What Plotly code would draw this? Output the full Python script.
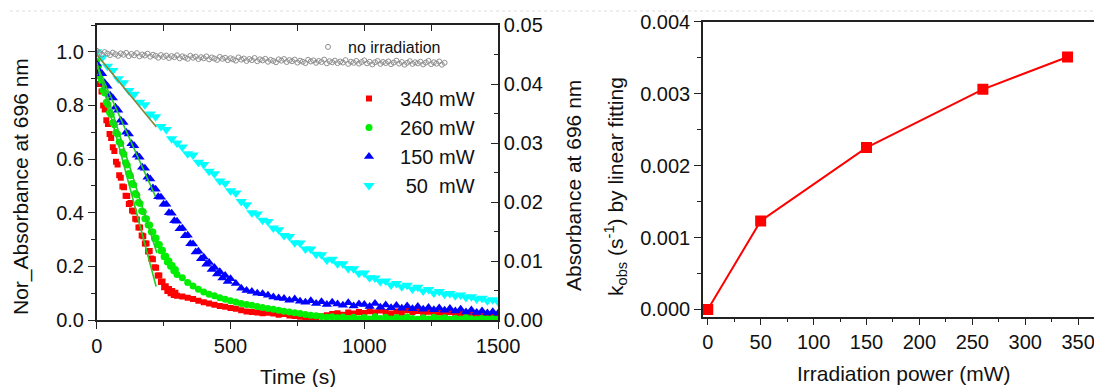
import plotly.graph_objects as go

# ---------------- data: left panel (normalized absorbance vs time) ----------------
t_340 = list(range(0, 301, 6)) + list(range(320, 1501, 20))
a_340 = [0.950, 0.922, 0.880, 0.852, 0.800, 0.785, 0.745, 0.731, 0.694, 0.679,
         0.644, 0.630, 0.590, 0.580, 0.540, 0.530, 0.498, 0.495, 0.463, 0.462,
         0.433, 0.436, 0.408, 0.405, 0.378, 0.375, 0.345, 0.345, 0.315, 0.312,
         0.285, 0.285, 0.255, 0.257, 0.229, 0.227, 0.197, 0.195, 0.166, 0.166,
         0.142, 0.144, 0.122, 0.126, 0.108, 0.116, 0.100, 0.108, 0.093, 0.102,
         0.090,
         0.088, 0.083, 0.078, 0.072, 0.066, 0.062, 0.057, 0.052, 0.049, 0.045,
         0.042, 0.036, 0.032, 0.030, 0.028, 0.025, 0.027, 0.024, 0.020, 0.022,
         0.017, 0.015, 0.012, 0.008, 0.004, 0.010, 0.014, 0.018, 0.022, 0.025,
         0.020, 0.028, 0.024, 0.030, 0.026, 0.033, 0.028, 0.035, 0.030, 0.024,
         0.032, 0.027, 0.036, 0.030, 0.034, 0.026, 0.031, 0.022, 0.028, 0.024,
         0.030, 0.021, 0.026, 0.020, 0.025, 0.018, 0.022, 0.015, 0.020, 0.017]

t_260 = list(range(0, 301, 6)) + list(range(320, 1501, 20))
a_260 = [0.965, 0.945, 0.908, 0.893, 0.857, 0.846, 0.812, 0.804, 0.774, 0.766,
         0.736, 0.728, 0.699, 0.694, 0.664, 0.658, 0.626, 0.618, 0.586, 0.578,
         0.546, 0.538, 0.509, 0.504, 0.472, 0.466, 0.438, 0.434, 0.406, 0.404,
         0.378, 0.378, 0.354, 0.354, 0.329, 0.328, 0.304, 0.306, 0.282, 0.282,
         0.258, 0.260, 0.236, 0.238, 0.216, 0.220, 0.200, 0.203, 0.184, 0.188,
         0.170,
         0.158, 0.140, 0.127, 0.115, 0.104, 0.096, 0.090, 0.083, 0.077, 0.072,
         0.067, 0.062, 0.058, 0.055, 0.050, 0.047, 0.043, 0.040, 0.036, 0.033,
         0.030, 0.027, 0.024, 0.021, 0.018, 0.016, 0.013, 0.010, 0.012, 0.008,
         0.011, 0.006, 0.010, 0.005, 0.009, 0.004, 0.012, 0.006, 0.010, 0.004,
         0.009, 0.005, 0.011, 0.006, 0.003, 0.008, 0.004, 0.010, 0.005, 0.008,
         0.003, 0.007, 0.004, 0.009, 0.005, 0.003, 0.007, 0.004, 0.006, 0.003]

t_150 = list(range(0, 501, 10)) + list(range(520, 1501, 20))
a_150 = [0.955, 0.928, 0.918, 0.884, 0.872, 0.838, 0.828, 0.793, 0.782, 0.745,
         0.736, 0.700, 0.694, 0.657, 0.650, 0.614, 0.607, 0.570, 0.566, 0.532,
         0.526, 0.492, 0.488, 0.460, 0.458, 0.432, 0.432, 0.400, 0.398, 0.370,
         0.368, 0.340, 0.342, 0.314, 0.316, 0.284, 0.283, 0.254, 0.256, 0.228,
         0.234, 0.208, 0.214, 0.188, 0.196, 0.172, 0.180, 0.157, 0.166, 0.144,
         0.154,
         0.136, 0.118, 0.110, 0.106, 0.100, 0.098, 0.092, 0.086, 0.082, 0.080,
         0.074, 0.078, 0.070, 0.066, 0.072, 0.062, 0.068, 0.058, 0.066, 0.060,
         0.055, 0.064, 0.052, 0.060, 0.058, 0.050, 0.062, 0.048, 0.056, 0.046,
         0.054, 0.044, 0.052, 0.042, 0.050, 0.040, 0.047, 0.038, 0.045, 0.036,
         0.043, 0.034, 0.040, 0.030, 0.037, 0.028, 0.034, 0.026, 0.031, 0.025]

t_50 = list(range(0, 1501, 20))
a_50 = [1.000, 0.978, 0.946, 0.930, 0.900, 0.885, 0.856, 0.842, 0.812, 0.803,
        0.768, 0.758, 0.722, 0.710, 0.676, 0.660, 0.645, 0.620, 0.615, 0.588,
        0.580, 0.555, 0.545, 0.518, 0.510, 0.482, 0.474, 0.442, 0.430, 0.400,
        0.395, 0.372, 0.367, 0.343, 0.337, 0.315, 0.311, 0.288, 0.287, 0.265,
        0.265, 0.245, 0.243, 0.224, 0.227, 0.210, 0.210, 0.192, 0.191, 0.174,
        0.175, 0.158, 0.157, 0.144, 0.145, 0.131, 0.136, 0.124, 0.130, 0.116,
        0.122, 0.108, 0.114, 0.101, 0.106, 0.096, 0.099, 0.090, 0.093, 0.084,
        0.087, 0.078, 0.081, 0.072, 0.076, 0.068]

t_dark = list(range(0, 1301, 10))
a_dark = [1.004, 0.996, 0.990, 0.999, 0.993, 0.988, 0.997, 0.991, 0.985, 0.994,
          0.989, 0.996, 0.984, 0.992, 0.987, 0.995, 0.983, 0.990, 0.986, 0.993,
          0.982, 0.989, 0.985, 0.978, 0.988, 0.981, 0.986, 0.977, 0.984, 0.980,
          0.987, 0.976, 0.983, 0.979, 0.974, 0.985, 0.978, 0.982, 0.973, 0.980,
          0.976, 0.983, 0.972, 0.979, 0.975, 0.970, 0.981, 0.974, 0.978, 0.969,
          0.976, 0.972, 0.967, 0.979, 0.971, 0.975, 0.966, 0.973, 0.969, 0.977,
          0.965, 0.972, 0.968, 0.974, 0.963, 0.970, 0.966, 0.961, 0.972, 0.967,
          0.973, 0.962, 0.969, 0.965, 0.971, 0.960, 0.967, 0.963, 0.958, 0.970,
          0.964, 0.968, 0.959, 0.966, 0.962, 0.971, 0.957, 0.965, 0.961, 0.967,
          0.958, 0.964, 0.960, 0.969, 0.955, 0.963, 0.959, 0.966, 0.956, 0.962,
          0.968, 0.957, 0.963, 0.953, 0.961, 0.966, 0.955, 0.962, 0.958, 0.964,
          0.954, 0.960, 0.967, 0.956, 0.962, 0.952, 0.959, 0.965, 0.955, 0.961,
          0.957, 0.963, 0.953, 0.960, 0.966, 0.954, 0.961, 0.956, 0.964, 0.952,
          0.959]

# linear fits (start / end points of each fitted segment)
fit_340_t = [0, 222]
fit_340_a = [0.96, 0.125]
fit_260_t = [0, 225]
fit_260_a = [0.96, 0.25]
fit_150_t = [0, 220]
fit_150_a = [0.95, 0.46]
fit_50_t = [0, 223]
fit_50_a = [0.99, 0.72]

# ---------------- data: right panel ----------------
power_mw = [0, 50, 150, 260, 340]
k_obs = [0.0, 0.00123, 0.00225, 0.00306, 0.00351]

FONT = "Liberation Sans, Arial, sans-serif"
AX = "#222222"
RED = "#ff0000"
GREEN = "#00ee00"
BLUE = "#0000ff"
CYAN = "#00ffff"

fig = go.Figure()

fig.add_trace(go.Scatter(x=t_dark, y=a_dark, mode="markers", name="no irradiation",
                         xaxis="x3", yaxis="y", legend="legend2",
                         marker=dict(symbol="circle-open", size=5, color="#8f8f8f",
                                     line=dict(width=1, color="#8f8f8f"))))
fig.add_trace(go.Scatter(x=t_340, y=a_340, mode="markers", name="\u00a0\u00a0340 mW",
                         marker=dict(symbol="square", size=6, color=RED)))
fig.add_trace(go.Scatter(x=t_260, y=a_260, mode="markers", name="\u00a0\u00a0260 mW",
                         marker=dict(symbol="circle", size=7, color=GREEN)))
fig.add_trace(go.Scatter(x=t_150, y=a_150, mode="markers", name="\u00a0\u00a0150 mW",
                         marker=dict(symbol="triangle-up", size=9, color=BLUE)))
fig.add_trace(go.Scatter(x=t_50, y=a_50, mode="markers", name="\u00a0\u00a0\u00a050\u00a0\u00a0mW",
                         marker=dict(symbol="triangle-down", size=10, color=CYAN)))

for ft, fa, col in [(fit_340_t, fit_340_a, "#22cc22"), (fit_260_t, fit_260_a, "#22cc22"),
                    (fit_150_t, fit_150_a, "#22cc22"), (fit_50_t, fit_50_a, "#8c8434")]:
    fig.add_trace(go.Scatter(x=ft, y=fa, mode="lines", showlegend=False,
                             line=dict(color=col, width=1.6)))

# empty trace so the right-hand absorbance axis gets its own subplot
fig.add_trace(go.Scatter(x=[], y=[], yaxis="y2", showlegend=False))

fig.add_trace(go.Scatter(x=power_mw, y=k_obs, mode="lines+markers", showlegend=False,
                         xaxis="x2", yaxis="y3",
                         line=dict(color=RED, width=2),
                         marker=dict(symbol="square", size=11, color=RED)))

tickfont = dict(family=FONT, size=20, color="#111")
common = dict(showgrid=False, zeroline=False, showline=True, linecolor=AX, linewidth=1.5,
              tickcolor=AX, tickwidth=1.3, tickfont=tickfont, automargin=False,
              ticklabeloverflow="allow")

fig.update_layout(
    template="none",
    width=1094, height=387,
    margin=dict(l=0, r=0, t=0, b=0, pad=0),
    paper_bgcolor="white", plot_bgcolor="white",
    font=dict(family=FONT, color="#111"),
    xaxis=dict(domain=[0.0884, 0.4553], range=[0, 1500], anchor="y",
               ticks="outside", ticklen=7, dtick=500, tick0=0,
               minor=dict(dtick=250, ticklen=4, ticks="outside", tickcolor=AX), **common),
    xaxis3=dict(overlaying="x", anchor="y", side="top", range=[0, 1500],
                ticks="inside", ticklen=6, dtick=250, tick0=0, showticklabels=False, **common),
    yaxis=dict(domain=[0.1731, 0.9354], range=[0, 1.1], anchor="x",
               ticks="outside", ticklen=7, dtick=0.2, tickformat=".1f",
               minor=dict(dtick=0.1, ticklen=4, ticks="outside", tickcolor=AX), **common),
    yaxis2=dict(overlaying="y", anchor="x", side="right", range=[0, 0.05],
                ticks="inside", ticklen=7, dtick=0.01, tickformat=".2f",
                minor=dict(dtick=0.005, ticklen=4, ticks="inside", tickcolor=AX), **common),
    xaxis2=dict(domain=[0.6426, 1.0], range=[-4.5, 365], anchor="y3", mirror=True,
                ticks="outside", ticklen=7, dtick=50, tick0=0,
                minor=dict(dtick=25, ticklen=4, ticks="outside", tickcolor=AX), **common),
    yaxis3=dict(domain=[0.1817, 0.9439], range=[-0.0001, 0.004], anchor="x2",
                ticks="outside", ticklen=7, dtick=0.001, tickformat=".3f",
                minor=dict(dtick=0.0005, ticklen=4, ticks="outside", tickcolor=AX), **common),
    legend=dict(x=349 / 1094, y=(387 - 79) / 387, xanchor="left", yanchor="top",
                bgcolor="rgba(0,0,0,0)", font=dict(family=FONT, size=20, color="#111"),
                tracegroupgap=0, itemwidth=30, borderwidth=0),
    legend2=dict(x=308 / 1094, y=(387 - 30) / 387, xanchor="left", yanchor="top",
                 bgcolor="rgba(0,0,0,0)", font=dict(family=FONT, size=16, color="#111"),
                 borderwidth=0),
    showlegend=True,
    shapes=[dict(type="line", xref="paper", yref="paper", x0=10 / 1094, x1=1,
                 y0=(387 - 11) / 387, y1=(387 - 11) / 387,
                 line=dict(color="#dddddd", width=1, dash="dot"))],
)

title_font = dict(family=FONT, size=21, color="#111")
ann = [
    dict(text="Nor_Absorbance at 696 nm", x=21 / 1094, y=(387 - 187) / 387, textangle=-90),
    dict(text="Absorbance at 696 nm", x=573 / 1094, y=(387 - 186) / 387, textangle=-90),
    dict(text="k<sub>obs</sub> (s<sup>-1</sup>) by linear fitting", x=615 / 1094,
         y=(387 - 187) / 387, textangle=-90),
    dict(text="Time (s)", x=298 / 1094, y=(387 - 376) / 387, textangle=0),
    dict(text="Irradiation power (mW)", x=904 / 1094, y=(387 - 373) / 387, textangle=0),
]
fig.update_layout(annotations=[dict(a, xref="paper", yref="paper", xanchor="center",
                                    yanchor="middle", showarrow=False, font=title_font)
                               for a in ann])

fig.write_html("out.html")
